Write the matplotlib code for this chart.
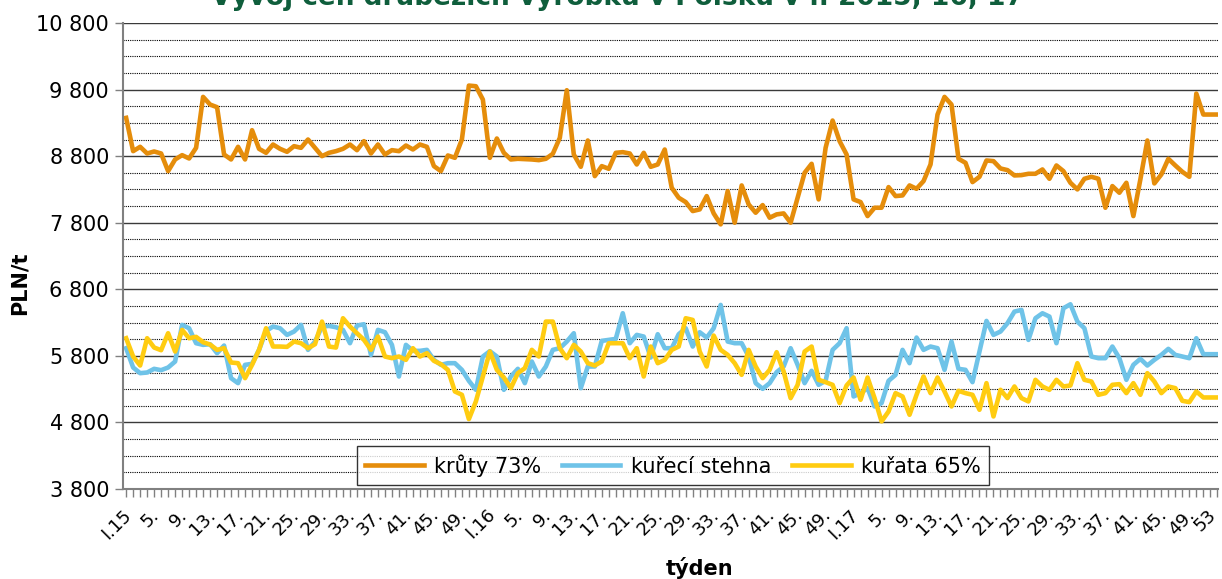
import matplotlib
matplotlib.use("Agg")
import matplotlib.pyplot as plt
import matplotlib.transforms as mtransforms
from matplotlib.ticker import FixedLocator, FuncFormatter

# ceny v PLN/t, týdenní data 2015-2017
kruty = [9375, 8875, 8940, 8840, 8870, 8840, 8575, 8750, 8815, 8765,
         8925, 9690, 9575, 9535, 8825, 8750, 8940, 8750, 9190, 8910,
         8850, 8975, 8910, 8865, 8950, 8925, 9050, 8925, 8800, 8850,
         8875, 8910, 8975, 8890, 9025, 8840, 8975, 8825, 8890, 8875,
         8960, 8900, 8975, 8940, 8650, 8575, 8810, 8775, 9050, 9860,
         9850, 9650, 8775, 9065,
         8850, 8750, 8760, 8755, 8750, 8740, 8760, 8835, 9075, 9790,
         8825, 8640, 9035, 8500, 8650, 8610, 8850, 8860, 8840, 8675,
         8850, 8640, 8675, 8900, 8325, 8175, 8110, 7975, 8000, 8200,
         7940, 7775, 8275, 7800, 8360, 8075, 7950, 8065, 7875, 7925,
         7940, 7800, 8175, 8550, 8685, 8150, 8925, 9335, 9025, 8825,
         8150, 8110, 7900, 8025, 8025, 8335,
         8200, 8210, 8360, 8310, 8425, 8675, 9425, 9690, 9575, 8760,
         8700, 8410, 8490, 8735, 8725, 8615, 8590, 8510, 8515, 8535,
         8535, 8600, 8460, 8660, 8575, 8400, 8300, 8460, 8490, 8460,
         8025, 8350, 8250, 8400, 7900, 8450, 9035, 8390, 8525, 8760,
         8660, 8565, 8490, 9740, 9425, 9425, 9425]

stehna = [5915, 5625, 5540, 5550, 5605, 5585, 5625, 5715, 6265, 6215,
          5990, 5965, 5975, 5840, 5955, 5465, 5390, 5665, 5680, 5890,
          6175, 6240, 6215, 6115, 6165, 6265, 5890, 6015, 6240, 6250,
          6230, 6190, 5990, 6255, 6275, 5815, 6190, 6155, 5965, 5490,
          5965, 5875, 5875, 5890, 5740, 5665, 5690, 5690, 5590, 5425,
          5290, 5790, 5870, 5790,
          5290, 5490, 5605, 5390, 5715, 5490, 5640, 5890, 5915, 6015,
          6140, 5315, 5640, 5640, 6025, 6040, 6055, 6440, 5990, 6115,
          6090, 5775, 6125, 5915, 5915, 6125, 6215, 5940, 6155, 6075,
          6215, 6565, 6015, 5990, 5990, 5790, 5390, 5305, 5390, 5555,
          5640, 5915, 5665, 5390, 5575, 5365, 5425, 5890, 5990, 6215,
          5190,
          5240, 5315, 5040, 5090, 5425, 5515, 5890, 5690, 6075, 5890,
          5940, 5915, 5590, 6015, 5605, 5590, 5405, 5865, 6325, 6115,
          6165, 6290, 6465, 6490, 6040, 6365, 6440, 6390, 5990, 6515,
          6575, 6315, 6215, 5790, 5765, 5765, 5940, 5765, 5440, 5665,
          5755, 5655, 5740, 5815, 5905, 5815, 5790, 5765, 6065, 5825,
          5825, 5825]

kurata = [6065, 5790, 5655, 6065, 5925, 5885, 6140, 5865, 6190, 6065,
          6085, 6005, 5970, 5890, 5915, 5700, 5690, 5465, 5665, 5890,
          6215, 5940, 5940, 5935, 6015, 5990, 5915, 5975, 6315, 5940,
          5925, 6365, 6240, 6140, 6040, 5890, 6090, 5790, 5765, 5790,
          5740, 5915, 5790, 5840, 5725, 5675, 5590, 5265, 5215, 4850,
          5115, 5490, 5865, 5590,
          5475, 5315, 5540, 5615, 5890, 5790, 6315, 6315, 5915, 5765,
          5965, 5865, 5690, 5655, 5715, 5990, 5990, 5990, 5765, 5915,
          5490, 5940, 5690, 5740, 5890, 5940, 6365, 6340, 5865, 5640,
          6105, 5890, 5815, 5690, 5515, 5890, 5640, 5465, 5590, 5855,
          5565, 5165, 5365, 5865, 5940, 5440, 5405, 5365, 5090, 5355,
          5475,
          5140, 5475, 5165, 4815, 4965, 5240, 5190, 4915, 5215, 5490,
          5240, 5475, 5265, 5040, 5275, 5240, 5215, 4990, 5390, 4890,
          5290, 5165, 5340, 5165, 5115, 5440, 5340, 5290, 5440, 5340,
          5355, 5690, 5440, 5415, 5215, 5240, 5365, 5375, 5240, 5390,
          5215, 5540, 5415, 5240, 5340, 5315, 5125, 5105, 5265, 5175,
          5175, 5175]

# popisky týdnů (každý 4. týden)
popisky = ["I.15", "5.", "9.", "13.", "17.", "21.", "25.", "29.", "33.", "37.", "41.", "45.", "49.",
           "I.16", "5.", "9.", "13.", "17.", "21.", "25.", "29.", "33.", "37.", "41.", "45.", "49.",
           "I.17", "5.", "9.", "13.", "17.", "21.", "25.", "29.", "33.", "37.", "41.", "45.", "49.",
           "53"]

fig = plt.figure(figsize=(12.22, 5.79), dpi=100)
ax = fig.add_axes([123 / 1222, 1 - 489 / 579, (1218 - 123) / 1222, (489 - 23) / 579])

x = list(range(len(kruty)))
ax.plot(x, kruty, color="#E58D0B", lw=3.3, label="krůty 73%", solid_joinstyle="round")
ax.plot(x, stehna, color="#6FC3E8", lw=3.3, label="kuřecí stehna", solid_joinstyle="round")
ax.plot(x, kurata, color="#FFCC11", lw=3.3, label="kuřata 65%", solid_joinstyle="round")

ax.set_xlim(-0.45, len(kruty) - 0.9)
ax.set_ylim(3800, 10800)

# osa y: hlavní po 1000 od 3 800, vedlejší po 250
ax.yaxis.set_major_locator(FixedLocator(list(range(3800, 10801, 1000))))
ax.yaxis.set_minor_locator(FixedLocator(list(range(3800, 10801, 250))))
ax.yaxis.set_major_formatter(FuncFormatter(lambda v, p: f"{int(round(v)):,}".replace(",", " ")))
ax.grid(axis="y", which="major", color="#3a3a3a", lw=1.0, ls="-")
ax.grid(axis="y", which="minor", color="#000000", lw=0.8, ls=(0, (1, 1)))
ax.tick_params(axis="y", which="major", length=6, width=1, color="#808080", labelsize=15, pad=4)
ax.tick_params(axis="y", which="minor", length=0)

# osa x
ax.set_xticks(x)
lab = [""] * len(x)
for k, t in enumerate(popisky):
    lab[k * 4] = t
ax.set_xticklabels(lab, rotation=45, ha="right", va="top", rotation_mode="anchor")
ax.tick_params(axis="x", length=6, width=1, color="#808080", labelsize=13, pad=6)
ticklabels = ax.get_xticklabels()
posledni = (len(popisky) - 1) * 4
for i, t in enumerate(ticklabels):
    dx = -10 if i == posledni else -4
    t.set_transform(t.get_transform() + mtransforms.ScaledTranslation(dx / 100, 0, fig.dpi_scale_trans))

ax.set_axisbelow(True)
for s in ["top", "right"]:
    ax.spines[s].set_visible(False)
for s in ["left", "bottom"]:
    ax.spines[s].set_color("#808080")
    ax.spines[s].set_linewidth(1.5)

fig.text(20 / 1222, 1 - 283 / 579, "PLN/t", rotation=90, ha="center", va="center",
         fontsize=15, fontweight="bold")
fig.text(700 / 1222, 1 - 568 / 579, "týden", ha="center", va="center",
         fontsize=15, fontweight="bold")
fig.text(617 / 1222, 1 - 5 / 579, "Vývoj cen drůbežích výrobků v Polsku v r. 2015, 16, 17",
         ha="center", va="baseline", fontsize=19, fontweight="bold", color="#0F5E3C")

leg = ax.legend(loc="lower left", bbox_to_anchor=((357 - 123) / 1095, (489 - 485) / 466,
                                                  (989 - 357) / 1095, (485 - 436) / 466),
                mode="expand", ncol=3, fontsize=15, frameon=True, fancybox=False,
                handlelength=2.8, handletextpad=0.5, borderaxespad=0, columnspacing=1.0)
leg.get_frame().set_edgecolor("#000000")
leg.get_frame().set_linewidth(1.0)

fig.savefig("out.png", dpi=100)
